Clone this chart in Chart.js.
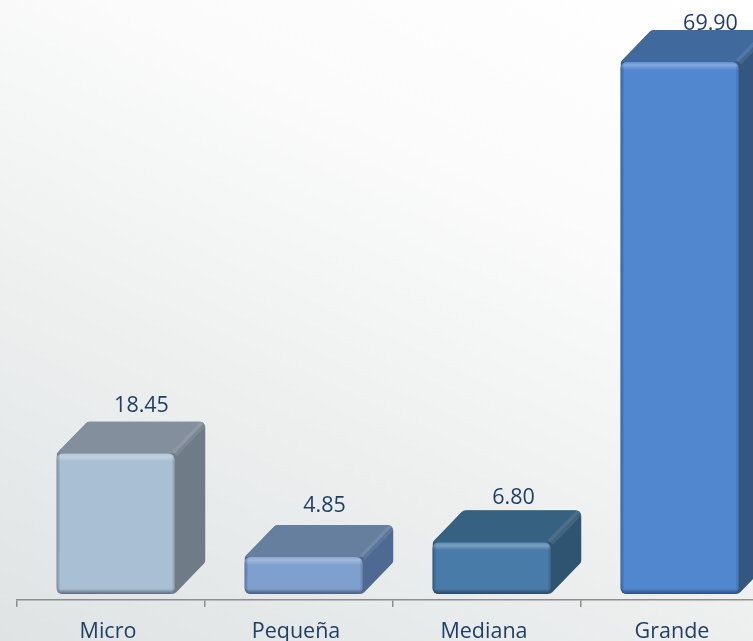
<!DOCTYPE html>
<html>
<head>
<meta charset="utf-8">
<title>Chart</title>
<style>
    html, body { margin: 0; padding: 0; width: 753px; height: 641px; overflow: hidden; }
    body { background: linear-gradient(205deg, #ffffff 0%, #fbfbfb 30%, #eef0f0 62%, #dfe3e3 100%); }
    canvas { display: block; }
</style>
<script src="https://cdn.jsdelivr.net/npm/chart.js@4"></script>
</head>
<body>
<canvas id="sizeChart" width="790" height="641"></canvas>
<script>
const categories = ['Micro', 'Pequeña', 'Mediana', 'Grande'];
const values = [18.45, 4.85, 6.80, 69.90];

// colors of each box: front, side and top faces
const frontColors = ['#a9bfd3', '#7f9fce', '#487ba7', '#5087cf'];
const sideColors = ['#6f7c88', '#4e6a92', '#2f5471', '#33577f'];
const topColors = ['#848f9d', '#667f9f', '#376180', '#406a9d'];

const textColor = '#1f3f68';
const depthX = 31;
const depthY = 32;
const barShift = 4.5;

// the labels are not centered the same way on every box
const labelDx = [30.5, 25.5, 26.5, 35.5];
const labelDy = [-48, -51, -44, -38];

function roundPoly(ctx, pts, r) {
    const n = pts.length;
    ctx.beginPath();
    ctx.moveTo((pts[n - 1][0] + pts[0][0]) / 2, (pts[n - 1][1] + pts[0][1]) / 2);
    for (let i = 0; i < n; i++) {
        const p = pts[i];
        const q = pts[(i + 1) % n];
        ctx.arcTo(p[0], p[1], (p[0] + q[0]) / 2, (p[1] + q[1]) / 2, r);
    }
    ctx.closePath();
}

const boxPlugin = {
    id: 'box3d',
    beforeDatasetsDraw(chart) {
        const ctx = chart.ctx;
        ctx.save();
        ctx.translate(barShift, 0);
        chart.getDatasetMeta(0).data.forEach(function (bar, i) {
            const hw = bar.width / 2;
            const x1 = bar.x - hw;
            const x2 = bar.x + hw;
            const y1 = bar.y;
            const y2 = bar.base;

            // outline of the whole box, side color first
            ctx.save();
            roundPoly(ctx, [[x1, y1], [x1 + depthX, y1 - depthY], [x2 + depthX, y1 - depthY],
                [x2 + depthX, y2 - depthY], [x2, y2], [x1, y2]], 6);
            ctx.clip();
            ctx.fillStyle = sideColors[i];
            ctx.fillRect(x1, y1 - depthY, x2 - x1 + depthX, y2 - y1 + depthY);

            // top face
            ctx.fillStyle = topColors[i];
            ctx.beginPath();
            ctx.moveTo(x1, y1);
            ctx.lineTo(x1 + depthX, y1 - depthY);
            ctx.lineTo(x2 + depthX, y1 - depthY);
            ctx.lineTo(x2, y1);
            ctx.closePath();
            ctx.fill();

            // lighter ridge between top and side
            ctx.strokeStyle = 'rgba(255,255,255,0.09)';
            ctx.lineWidth = 7;
            ctx.beginPath();
            ctx.moveTo(x2, y1);
            ctx.lineTo(x2 + depthX, y1 - depthY);
            ctx.stroke();
            ctx.restore();
        });
    },
    afterDatasetsDraw(chart) {
        const ctx = chart.ctx;
        chart.getDatasetMeta(0).data.forEach(function (bar, i) {
            const hw = bar.width / 2;
            const x1 = bar.x - hw;
            const x2 = bar.x + hw;
            const y1 = bar.y;
            const y2 = bar.base;

            // bevel of the front face
            ctx.save();
            roundPoly(ctx, [[x1, y1], [x2, y1], [x2, y2], [x1, y2]], 6);
            ctx.clip();

            let g = ctx.createLinearGradient(0, y1, 0, y1 + 8);
            g.addColorStop(0, 'rgba(255,255,255,0.08)');
            g.addColorStop(0.4, 'rgba(255,255,255,0.28)');
            g.addColorStop(1, 'rgba(255,255,255,0)');
            ctx.fillStyle = g;
            ctx.fillRect(x1, y1, x2 - x1, 8);

            g = ctx.createLinearGradient(0, y2 - 5, 0, y2);
            g.addColorStop(0, 'rgba(0,0,0,0)');
            g.addColorStop(1, 'rgba(10,25,50,0.50)');
            ctx.fillStyle = g;
            ctx.fillRect(x1, y2 - 5, x2 - x1, 5);

            g = ctx.createLinearGradient(x1, 0, x1 + 4, 0);
            g.addColorStop(0, 'rgba(10,25,50,0.30)');
            g.addColorStop(1, 'rgba(0,0,0,0)');
            ctx.fillStyle = g;
            ctx.fillRect(x1, y1, 4, y2 - y1);

            g = ctx.createLinearGradient(x2 - 3, 0, x2, 0);
            g.addColorStop(0, 'rgba(0,0,0,0)');
            g.addColorStop(1, 'rgba(10,25,50,0.18)');
            ctx.fillStyle = g;
            ctx.fillRect(x2 - 3, y1, 3, y2 - y1);
            ctx.restore();

            // value label
            ctx.fillStyle = textColor;
            ctx.font = '21.5px "Open Sans"';
            ctx.textAlign = 'center';
            ctx.textBaseline = 'middle';
            ctx.fillText(values[i].toFixed(2), bar.x + labelDx[i] - barShift, y1 + labelDy[i]);
        });
        ctx.restore();
    }
};

new Chart(document.getElementById('sizeChart'), {
    type: 'bar',
    data: {
        labels: categories,
        datasets: [{
            data: values,
            backgroundColor: frontColors,
            borderWidth: 0,
            borderRadius: 6,
            borderSkipped: false,
            categoryPercentage: 1,
            barPercentage: 0.6277,
            clip: false
        }]
    },
    options: {
        responsive: false,
        animation: false,
        layout: { padding: { left: 17, right: 21, top: 0, bottom: 0 } },
        plugins: { legend: { display: false }, tooltip: { enabled: false } },
        scales: {
            x: {
                afterFit(scale) { scale.height = 41; },
                border: { color: '#8e8e8e', width: 1.5 },
                grid: { offset: true, drawOnChartArea: false, color: '#8e8e8e', tickLength: 7, lineWidth: 1.5 },
                ticks: {
                    color: textColor,
                    font: { family: '"Open Sans"', size: 21.5 },
                    padding: 12,
                    labelOffset: -3,
                    autoSkip: false,
                    maxRotation: 0
                }
            },
            y: {
                display: false,
                min: -0.79,
                max: 78.05
            }
        }
    },
    plugins: [boxPlugin]
});
</script>
</body>
</html>
